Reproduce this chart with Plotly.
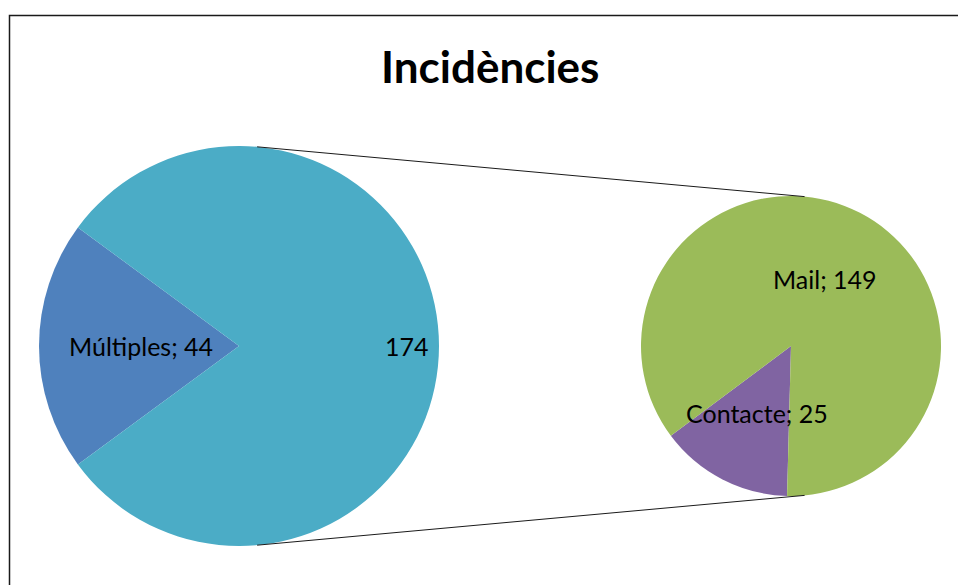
import math
import plotly.graph_objects as go

W, H = 958, 585

# Primary pie: single reports vs. the grouped remainder
main_labels = ["Múltiples", "Altres"]
main_values = [44, 174]
main_colors = ["#4F81BD", "#4BACC6"]

# Secondary pie: breakdown of the grouped remainder
sub_labels = ["Contacte", "Mail"]
sub_values = [25, 149]
sub_colors = ["#8064A2", "#9BBB59"]

title_text = "Incidències"

# Layout geometry in pixels (origin top-left)
main_cx, main_cy, main_r = 239, 346, 200
sub_cx, sub_cy, sub_r = 791, 346, 150
main_rotation = 270 - 180 * main_values[0] / sum(main_values)  # centre first slice on the left
sub_rotation = 181.5

FONT = "Lato"


def px(x):
    return x / W


def py(y):
    return 1 - y / H


def domain(cx, cy, r):
    return dict(x=[px(cx - r), px(cx + r)], y=[py(cy + r), py(cy - r)])


def slice_mids(values, rotation):
    """Mid angle of each slice, degrees clockwise from 12 o'clock."""
    total = sum(values)
    mids, start = [], rotation
    for v in values:
        span = 360 * v / total
        mids.append(start + span / 2)
        start += span
    return mids


def polar(cx, cy, d, ang):
    a = math.radians(ang)
    return cx + d * math.sin(a), cy - d * math.cos(a)


fig = go.Figure()
fig.add_trace(go.Pie(
    labels=main_labels, values=main_values, sort=False, direction="clockwise",
    rotation=main_rotation, marker=dict(colors=main_colors), textinfo="none",
    domain=domain(main_cx, main_cy, main_r), hoverinfo="label+value",
))
fig.add_trace(go.Pie(
    labels=sub_labels, values=sub_values, sort=False, direction="clockwise",
    rotation=sub_rotation, marker=dict(colors=sub_colors), textinfo="none",
    domain=domain(sub_cx, sub_cy, sub_r), hoverinfo="label+value",
))

annotations = []
label_font = dict(family=FONT, size=25, color="#000000")

mm = slice_mids(main_values, main_rotation)
lx, ly = polar(main_cx, main_cy, 0.49 * main_r, mm[0])
annotations.append(dict(text=f"{main_labels[0]}; {main_values[0]}", x=px(lx), y=py(ly)))
lx, ly = polar(main_cx, main_cy, 0.84 * main_r, mm[1])
annotations.append(dict(text=f"{main_values[1]}", x=px(lx), y=py(ly)))

sm = slice_mids(sub_values, sub_rotation)
for lab, val, ang in zip(sub_labels, sub_values, sm):
    lx, ly = polar(sub_cx, sub_cy, 0.5 * sub_r, ang)
    annotations.append(dict(text=f"{lab}; {val}", x=px(lx), y=py(ly)))

for a in annotations:
    a.update(xref="paper", yref="paper", showarrow=False, xanchor="center",
             yanchor="middle", font=label_font)

annotations.append(dict(
    text=f"<b>{title_text}</b>", x=px(490), y=py(66), xref="paper", yref="paper",
    showarrow=False, xanchor="center", yanchor="middle",
    font=dict(family=FONT, size=44, color="#000000"),
))

# Connector lines: outer tangents between the two pies
theta = math.acos((main_r - sub_r) / (sub_cx - main_cx))
shapes = []
for sgn in (1, -1):
    x0 = main_cx + main_r * math.cos(theta)
    y0 = main_cy - sgn * main_r * math.sin(theta)
    x1 = sub_cx + sub_r * math.cos(theta)
    y1 = sub_cy - sgn * sub_r * math.sin(theta)
    shapes.append(dict(type="line", xref="paper", yref="paper",
                       x0=px(x0), y0=py(y0), x1=px(x1), y1=py(y1),
                       line=dict(color="#1a1a1a", width=1)))

# Chart-area frame (top and left edges)
shapes.append(dict(type="path", xref="paper", yref="paper",
                   path=f"M {px(9.5)} {py(H)} L {px(9.5)} {py(15.5)} L {px(W)} {py(15.5)}",
                   line=dict(color="#1a1a1a", width=1.5)))

fig.update_layout(
    width=W, height=H, margin=dict(l=0, r=0, t=0, b=0),
    paper_bgcolor="white", plot_bgcolor="white", showlegend=False,
    annotations=annotations, shapes=shapes,
)

fig.write_html("out.html")
